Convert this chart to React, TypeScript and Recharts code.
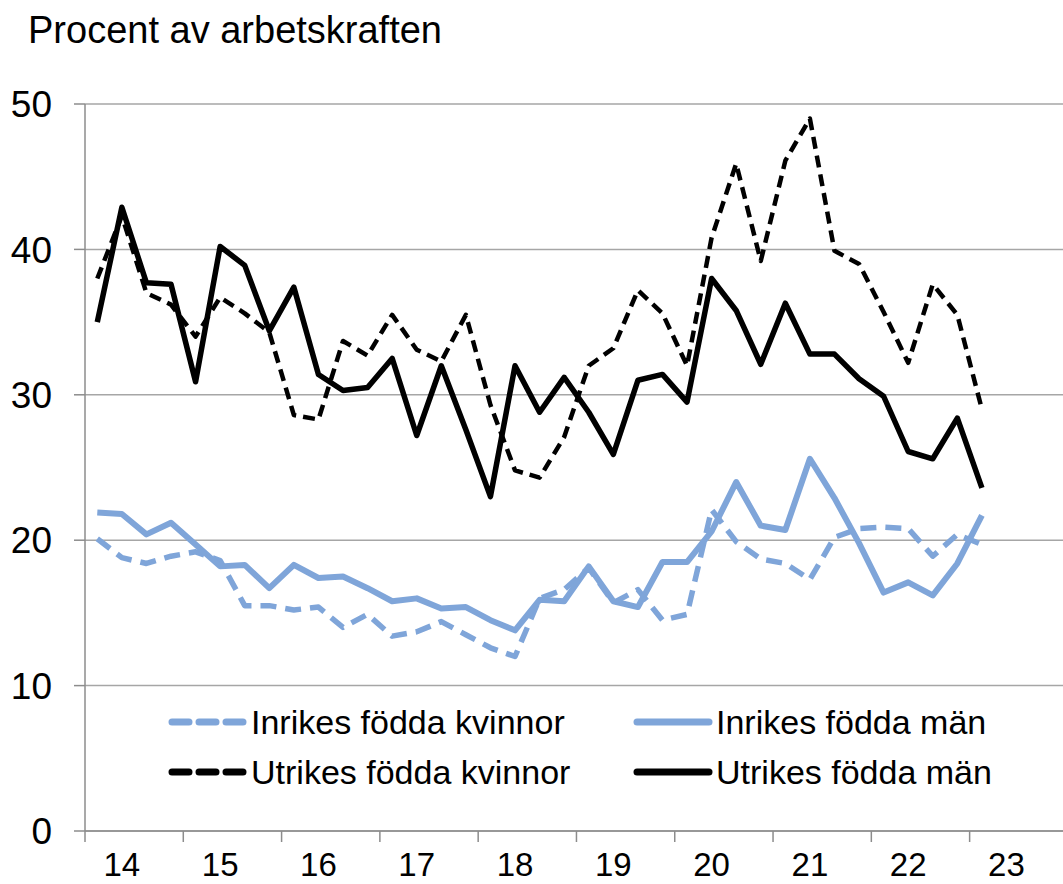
import React from 'react';
import { LineChart, Line, XAxis, YAxis, CartesianGrid } from 'recharts';

// Quarterly observations 2014 Q1 – 2023 Q1 (index 0 = 2014 Q1)
const inrikesKvinnor = [20.1, 18.8, 18.4, 18.9, 19.2, 18.6, 15.5, 15.5, 15.2, 15.4, 14.0, 14.9, 13.4, 13.7, 14.4, 13.5, 12.6, 12.0, 16.0, 16.6, 18.1, 15.7, 16.6, 14.5, 14.9, 22.1, 19.9, 18.7, 18.4, 17.3, 20.2, 20.8, 20.9, 20.8, 18.9, 20.4, 19.7];
const inrikesMan = [21.9, 21.8, 20.4, 21.2, 19.7, 18.2, 18.3, 16.7, 18.3, 17.4, 17.5, 16.7, 15.8, 16.0, 15.3, 15.4, 14.5, 13.8, 15.9, 15.8, 18.2, 15.8, 15.4, 18.5, 18.5, 20.6, 24.0, 21.0, 20.7, 25.6, 22.9, 19.8, 16.4, 17.1, 16.2, 18.4, 21.7];
const utrikesKvinnor = [38.0, 42.3, 37.0, 36.2, 34.0, 36.7, 35.6, 34.3, 28.6, 28.3, 33.7, 32.7, 35.5, 33.1, 32.3, 35.5, 29.3, 24.8, 24.3, 27.1, 32.0, 33.2, 37.2, 35.6, 32.0, 40.8, 45.9, 39.2, 46.1, 49.0, 39.9, 39.0, 35.7, 32.2, 37.6, 35.5, 29.0];
const utrikesMan = [35.0, 42.9, 37.7, 37.6, 30.9, 40.2, 38.9, 34.4, 37.4, 31.4, 30.3, 30.5, 32.5, 27.2, 32.0, 27.6, 23.0, 32.0, 28.8, 31.2, 28.8, 25.9, 31.0, 31.4, 29.5, 38.0, 35.8, 32.1, 36.3, 32.8, 32.8, 31.1, 29.9, 26.1, 25.6, 28.4, 23.6];

const yearLabels = ['14', '15', '16', '17', '18', '19', '20', '21', '22', '23'];
const yTicks = [0, 10, 20, 30, 40, 50];
const seriesNames = ['Inrikes födda kvinnor', 'Inrikes födda män', 'Utrikes födda kvinnor', 'Utrikes födda män'];

const data = utrikesMan.map((_, i) => ({
  q: i,
  inrKv: inrikesKvinnor[i],
  inrMan: inrikesMan[i],
  utrKv: utrikesKvinnor[i],
  utrMan: utrikesMan[i],
}));

const W = 1063;
const H = 884;
const LEFT = 85;
const TOP = 104;
const XAXIS_H = 53;
const X_MIN = -0.5;
const X_MAX = 39.3;
const UNIT = (W - LEFT) / (X_MAX - X_MIN);
const boundaryTicks = yearLabels.map((_, k) => k * 4 - 0.5);

const BLUE = '#7fa5d9';
const GRID = '#a6a6a6';
const AXIS = '#8c8c8c';
const FONT = '"Liberation Sans", Arial, sans-serif';

const XTick = (props: any) => {
  const { x, y, index } = props;
  return (
    <text
      x={x + 1.5 * UNIT}
      y={y + 32}
      textAnchor="middle"
      fontSize={33}
      fontFamily={FONT}
      fill="#000"
    >
      {yearLabels[index]}
    </text>
  );
};

const LegendItem = ({ label, color, dashed, width, top, left }: any) => (
  <div style={{ position: 'absolute', left, top, height: 40, display: 'flex', alignItems: 'center' }}>
    <svg width={82} height={40} style={{ display: 'block' }}>
      <line
        x1={5}
        x2={77}
        y1={20}
        y2={20}
        stroke={color}
        strokeWidth={width}
        strokeDasharray={dashed ? '17 10' : undefined}
        strokeLinecap="round"
      />
    </svg>
    <span style={{ fontFamily: FONT, fontSize: 34, color: '#000', whiteSpace: 'nowrap', marginLeft: 2 }}>{label}</span>
  </div>
);

export default function App() {
  return (
    <div style={{ position: 'absolute', left: 0, top: 0, width: W, height: H, background: '#fff', overflow: 'hidden' }}>
      <div
        style={{
          position: 'absolute',
          left: 28,
          top: 11,
          fontFamily: FONT,
          fontSize: 38,
          lineHeight: '38px',
          color: '#000',
          whiteSpace: 'nowrap',
        }}
      >
        Procent av arbetskraften
      </div>
      <LineChart width={W} height={H} data={data} margin={{ top: TOP, right: 0, bottom: 0, left: 0 }}>
        <CartesianGrid vertical={false} stroke={GRID} strokeWidth={1.5} />
        <XAxis
          dataKey="q"
          type="number"
          domain={[X_MIN, X_MAX]}
          allowDataOverflow
          ticks={boundaryTicks}
          interval={0}
          height={XAXIS_H}
          tickSize={11}
          tickMargin={2}
          axisLine={{ stroke: AXIS, strokeWidth: 1.5 }}
          tickLine={{ stroke: AXIS, strokeWidth: 1.5 }}
          tick={<XTick />}
        />
        <YAxis
          domain={[0, 50]}
          ticks={yTicks}
          interval={0}
          width={LEFT}
          tickSize={11}
          tickMargin={22}
          axisLine={{ stroke: AXIS, strokeWidth: 1.5 }}
          tickLine={{ stroke: AXIS, strokeWidth: 1.5 }}
          tick={{ fill: '#000', fontSize: 37, fontFamily: FONT }}
        />
        <Line dataKey="inrKv" name={seriesNames[0]} stroke={BLUE} strokeWidth={5.5} strokeDasharray="16 9" dot={false} isAnimationActive={false} strokeLinejoin="round" />
        <Line dataKey="inrMan" name={seriesNames[1]} stroke={BLUE} strokeWidth={6} dot={false} isAnimationActive={false} strokeLinejoin="round" />
        <Line dataKey="utrKv" name={seriesNames[2]} stroke="#000" strokeWidth={4.5} strokeDasharray="12 7" dot={false} isAnimationActive={false} strokeLinejoin="round" />
        <Line dataKey="utrMan" name={seriesNames[3]} stroke="#000" strokeWidth={5.5} dot={false} isAnimationActive={false} strokeLinejoin="round" />
      </LineChart>
      <LegendItem label={seriesNames[0]} color={BLUE} dashed width={7} left={167} top={702} />
      <LegendItem label={seriesNames[1]} color={BLUE} width={7} left={632} top={702} />
      <LegendItem label={seriesNames[2]} color="#000" dashed width={7} left={167} top={752} />
      <LegendItem label={seriesNames[3]} color="#000" width={7} left={632} top={752} />
    </div>
  );
}
